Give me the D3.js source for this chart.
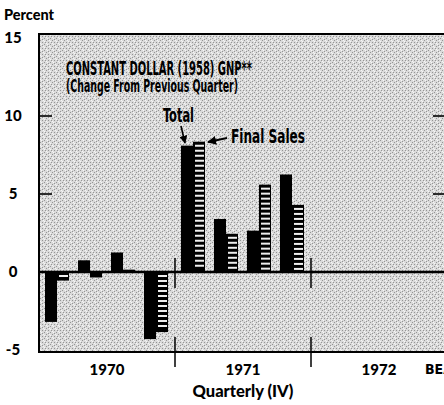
<!DOCTYPE html>
<html>
<head>
<meta charset="utf-8">
<script src="https://cdn.jsdelivr.net/npm/d3@7"></script>
<style>
  body { margin: 0; background: #fff; }
  svg { display: block; }
  .bold { font-family: Lato, "DejaVu Sans", sans-serif; font-weight: 900; fill: #000; }
  .narrow { font-family: "Liberation Sans Narrow", "DejaVu Sans Condensed", sans-serif; font-weight: 700; fill: #000; }
</style>
</head>
<body>
<svg id="chart" width="444" height="405"></svg>
<script>
// values (percent change from previous quarter)
var years = ['1970', '1971', '1972'];
var quarters = ['I', 'II', 'III', 'IV'];
var total = [-3.2, 0.75, 1.25, -4.3, 8.1, 3.4, 2.65, 6.25];
var finalSales = [-0.55, -0.35, 0.15, -3.85, 8.35, 2.45, 5.6, 4.3];
var yTicks = [15, 10, 5, 0, -5];
var series = ['Total', 'Final Sales'];

var svg = d3.select('#chart');

// plot frame (right edge runs past the window like in the scan)
var frameL = 39, frameR = 447, frameT = 34, frameB = 352;

var y = d3.scaleLinear()
    .domain([-5, 15])
    .range([350, 38]);

var xYear = d3.scaleBand()
    .domain(years)
    .range([frameL, frameR]);

var xQuarter = d3.scaleBand()
    .domain(quarters)
    .range([6, 129])
    .paddingInner(0.2727)
    .paddingOuter(0);

var xSeries = d3.scaleBand()
    .domain(series)
    .range([0, xQuarter.bandwidth()]);

// background stipple
var defs = svg.append('defs');
var pat = defs.append('pattern')
    .attr('id', 'stipple')
    .attr('patternUnits', 'userSpaceOnUse')
    .attr('width', 6).attr('height', 6);
pat.append('rect').attr('width', 6).attr('height', 6).attr('fill', '#dadada');
[[0, 0], [2, 2], [4, 4], [3, 0], [0, 3]].forEach(function (p) {
    pat.append('rect').attr('x', p[0]).attr('y', p[1]).attr('width', 1).attr('height', 1).attr('fill', '#959595');
});
[[1, 4], [4, 1], [2, 5], [5, 2]].forEach(function (p) {
    pat.append('rect').attr('x', p[0]).attr('y', p[1]).attr('width', 1).attr('height', 1).attr('fill', '#f6f6f6');
});

svg.append('rect')
    .attr('x', frameL).attr('y', frameT)
    .attr('width', frameR - frameL).attr('height', frameB - frameT)
    .attr('fill', 'url(#stipple)');

// bars
var rows = total.map(function (t, i) {
    return {
        year: years[Math.floor(i / 4)],
        quarter: quarters[i % 4],
        total: t,
        finalSales: finalSales[i]
    };
});

function barX(d, s) {
    return xYear(d.year) + xQuarter(d.quarter) + xSeries(s);
}

var g = svg.append('g');

g.selectAll('rect.total')
    .data(rows)
    .enter()
    .append('rect')
    .attr('class', 'total')
    .attr('x', d => barX(d, 'Total'))
    .attr('y', d => y(Math.max(0, d.total)))
    .attr('width', xSeries.bandwidth())
    .attr('height', d => Math.abs(y(d.total) - y(0)))
    .attr('fill', '#000');

var fs = g.selectAll('g.final')
    .data(rows)
    .enter()
    .append('g')
    .attr('class', 'final');

fs.append('rect')
    .attr('x', d => barX(d, 'Final Sales'))
    .attr('y', d => y(Math.max(0, d.finalSales)))
    .attr('width', xSeries.bandwidth())
    .attr('height', d => Math.abs(y(d.finalSales) - y(0)))
    .attr('fill', '#000');

// ladder gaps in the final sales bars
fs.each(function (d) {
    var y0 = y(Math.max(0, d.finalSales));
    var y1 = y(Math.min(0, d.finalSales));
    var x0 = barX(d, 'Final Sales');
    var gaps = [];
    for (var yy = y0 + 3; yy + 2 < y1 - 1; yy += 5) gaps.push(yy);
    d3.select(this).selectAll('rect.gap')
        .data(gaps)
        .enter()
        .append('rect')
        .attr('class', 'gap')
        .attr('x', x0 + 2)
        .attr('y', v => v)
        .attr('width', xSeries.bandwidth() - 3)
        .attr('height', 2)
        .attr('fill', '#efefef');
});

// frame
svg.append('rect')
    .attr('x', frameL).attr('y', frameT)
    .attr('width', frameR - frameL).attr('height', frameB - frameT)
    .attr('fill', 'none')
    .attr('stroke', '#000')
    .attr('stroke-width', 2);

// zero line
svg.append('line')
    .attr('x1', frameL).attr('x2', frameR)
    .attr('y1', y(0)).attr('y2', y(0))
    .attr('stroke', '#000')
    .attr('stroke-width', 2.6);

// inner ticks both sides
[10, 5].forEach(function (v) {
    svg.append('line')
        .attr('x1', frameL).attr('x2', frameL + 13)
        .attr('y1', y(v)).attr('y2', y(v))
        .attr('stroke', '#000').attr('stroke-width', 1.6);
    svg.append('line')
        .attr('x1', frameR - 14).attr('x2', frameR)
        .attr('y1', y(v)).attr('y2', y(v))
        .attr('stroke', '#000').attr('stroke-width', 1.6);
});

// year dividers
years.slice(1).forEach(function (yr) {
    var x = xYear(yr);
    svg.append('line')
        .attr('x1', x).attr('x2', x)
        .attr('y1', y(0) - 14).attr('y2', y(0) + 16)
        .attr('stroke', '#000').attr('stroke-width', 1.5);
    svg.append('line')
        .attr('x1', x).attr('x2', x)
        .attr('y1', frameB - 15).attr('y2', frameB + 15)
        .attr('stroke', '#000').attr('stroke-width', 1.5);
});

// y tick labels
svg.selectAll('text.ytick')
    .data(yTicks)
    .enter()
    .append('text')
    .attr('class', 'ytick bold')
    .attr('x', 13)
    .attr('y', d => y(d) + 5)
    .attr('text-anchor', 'middle')
    .style('font-size', '15px')
    .text(d => d < 0 ? '-' + Math.abs(d) : d);

svg.append('text')
    .attr('class', 'bold')
    .attr('x', 4).attr('y', 20)
    .style('font-size', '14.5px')
    .text('Percent');

// year labels
svg.selectAll('text.year')
    .data(years)
    .enter()
    .append('text')
    .attr('class', 'year bold')
    .attr('x', d => xYear(d) + xYear.bandwidth() / 2)
    .attr('y', 375)
    .attr('text-anchor', 'middle')
    .style('font-size', '15px')
    .text(d => d);

svg.append('text')
    .attr('class', 'bold')
    .attr('x', xYear('1971') + xYear.bandwidth() / 2)
    .attr('y', 397)
    .attr('text-anchor', 'middle')
    .style('font-size', '16.5px')
    .text('Quarterly (IV)');

svg.append('text')
    .attr('class', 'narrow')
    .attr('x', 425).attr('y', 374)
    .style('font-size', '14px')
    .text('BEA');

// title
svg.append('text')
    .attr('class', 'narrow')
    .attr('x', 66).attr('y', 75)
    .attr('textLength', 186)
    .attr('lengthAdjust', 'spacingAndGlyphs')
    .style('font-size', '19px')
    .text('CONSTANT DOLLAR (1958) GNP**');

svg.append('text')
    .attr('class', 'narrow')
    .attr('x', 66).attr('y', 92)
    .attr('textLength', 172)
    .attr('lengthAdjust', 'spacingAndGlyphs')
    .style('font-size', '18px')
    .text('(Change From Previous Quarter)');

// series labels with arrows
defs.append('marker')
    .attr('id', 'head')
    .attr('viewBox', '0 0 10 10')
    .attr('refX', 9).attr('refY', 5)
    .attr('markerWidth', 5).attr('markerHeight', 5)
    .attr('orient', 'auto')
    .append('path')
    .attr('d', 'M0,0L10,5L0,10Z')
    .attr('fill', '#000');

svg.append('text')
    .attr('class', 'narrow')
    .attr('x', 163).attr('y', 122)
    .attr('textLength', 31)
    .attr('lengthAdjust', 'spacingAndGlyphs')
    .style('font-size', '20px')
    .text(series[0]);

svg.append('line')
    .attr('x1', 181).attr('y1', 126)
    .attr('x2', 185).attr('y2', 143)
    .attr('stroke', '#000').attr('stroke-width', 1.6)
    .attr('marker-end', 'url(#head)');

svg.append('text')
    .attr('class', 'narrow')
    .attr('x', 231).attr('y', 143)
    .attr('textLength', 74)
    .attr('lengthAdjust', 'spacingAndGlyphs')
    .style('font-size', '20px')
    .text(series[1]);

svg.append('line')
    .attr('x1', 227).attr('y1', 138)
    .attr('x2', 208).attr('y2', 142)
    .attr('stroke', '#000').attr('stroke-width', 1.8)
    .attr('marker-end', 'url(#head)');
</script>
</body>
</html>
